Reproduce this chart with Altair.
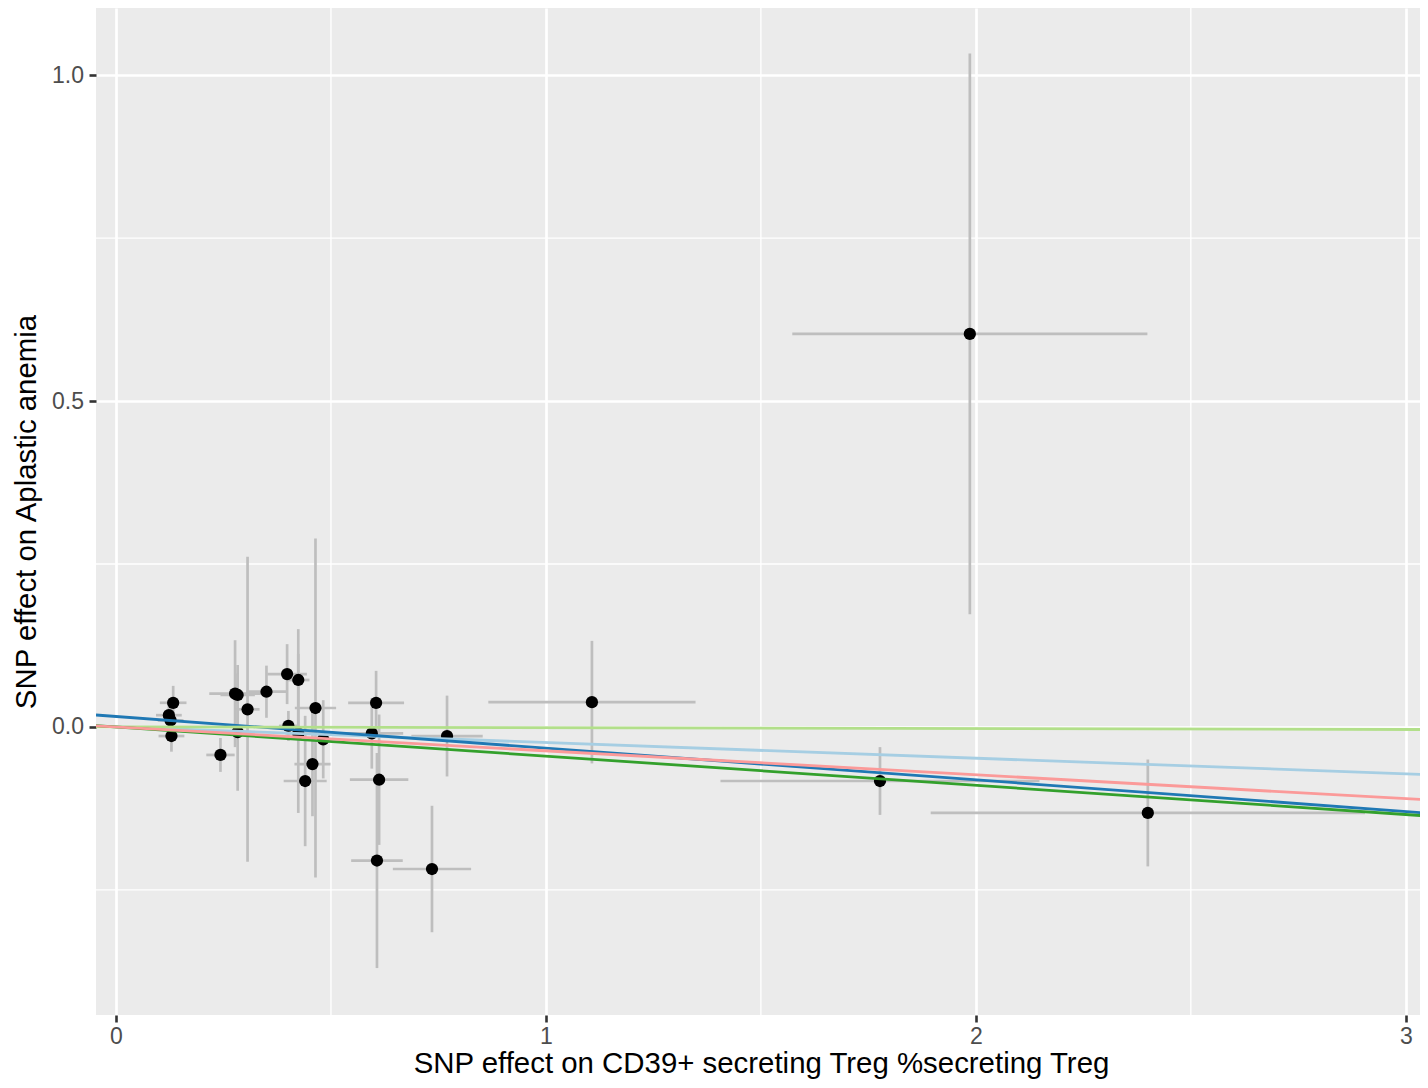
import altair as alt
import pandas as pd

# SNP effects on exposure (x) and outcome (y) with standard errors
bx = [1.986, 1.107, 1.777, 2.400, 0.735, 0.607, 0.612, 0.605, 0.595, 0.770,
      0.464, 0.424, 0.398, 0.350, 0.306, 0.401, 0.482, 0.457, 0.440,
      0.133, 0.123, 0.127, 0.129, 0.243, 0.277, 0.283, 0.283, 0.424]
by = [0.603, 0.038, -0.083, -0.132, -0.218, -0.205, -0.081, 0.037, -0.010, -0.014,
      0.029, 0.072, 0.081, 0.054, 0.027, 0.0015, -0.019, -0.057, -0.083,
      0.037, 0.018, 0.010, -0.014, -0.043, 0.051, 0.049, -0.008, -0.010]
se_x = [0.413, 0.241, 0.371, 0.505, 0.091, 0.060, 0.068, 0.065, 0.073, 0.083,
        0.048, 0.026, 0.046, 0.047, 0.028, 0.022, 0.040, 0.042, 0.050,
        0.031, 0.030, 0.030, 0.030, 0.033, 0.060, 0.040, 0.030, 0.030]
se_y = [0.430, 0.094, 0.052, 0.082, 0.097, 0.165, 0.100, 0.049, 0.054, 0.062,
        0.260, 0.078, 0.046, 0.040, 0.234, 0.023, 0.060, 0.080, 0.100,
        0.026, 0.020, 0.020, 0.024, 0.026, 0.082, 0.046, 0.090, 0.122]

# MR method fits
methods = ["Inverse variance weighted", "MR Egger", "Simple mode",
           "Weighted median", "Weighted mode"]
intercepts = [0.0, 0.016, 0.0, 0.0, 0.0]
slopes = [-0.0240, -0.0486, -0.0013, -0.0448, -0.0367]
colors = ["#a6cee3", "#1f78b4", "#b2df8a", "#33a02c", "#fb9a99"]

# axis breaks
x_major = [0, 1, 2, 3]
x_minor = [0.5, 1.5, 2.5]
y_major = [0.0, 0.5, 1.0]
y_minor = [-0.25, 0.25, 0.75]
X_DOMAIN = [-0.0465, 3.047]
Y_DOMAIN = [-0.442, 1.103]

x_title = "SNP effect on CD39+ secreting Treg %secreting Treg"
y_title = "SNP effect on Aplastic anemia"

FONT = "Liberation Sans"

snp = pd.DataFrame({"bx": bx, "by": by, "se_x": se_x, "se_y": se_y})

rows = []
for m, a, b in zip(methods, intercepts, slopes):
    for xv in X_DOMAIN:
        rows.append({"method": m, "x": xv, "y": a + b * xv})
lines_df = pd.DataFrame(rows)

xscale = alt.Scale(domain=X_DOMAIN, nice=False, zero=False)
yscale = alt.Scale(domain=Y_DOMAIN, nice=False, zero=False)

xaxis = alt.Axis(values=x_major, format="d", title=x_title)
yaxis = alt.Axis(values=y_major, format=".1f", title=y_title)

minor_x = alt.Chart(pd.DataFrame({"v": x_minor})).mark_rule(
    color="white", strokeWidth=1.35
).encode(x=alt.X("v:Q", scale=xscale, axis=xaxis))

minor_y = alt.Chart(pd.DataFrame({"v": y_minor})).mark_rule(
    color="white", strokeWidth=1.35
).encode(y=alt.Y("v:Q", scale=yscale, axis=yaxis))

base = alt.Chart(snp)

vbars = base.transform_calculate(
    ylo="datum.by - datum.se_y", yhi="datum.by + datum.se_y"
).mark_rule(color="#BEBEBE", strokeWidth=2.7, clip=True).encode(
    x=alt.X("bx:Q", scale=xscale, axis=xaxis),
    y=alt.Y("ylo:Q", scale=yscale, axis=yaxis),
    y2="yhi:Q",
)

hbars = base.transform_calculate(
    xlo="datum.bx - datum.se_x", xhi="datum.bx + datum.se_x"
).mark_rule(color="#BEBEBE", strokeWidth=2.7, clip=True).encode(
    x=alt.X("xlo:Q", scale=xscale, axis=xaxis),
    x2="xhi:Q",
    y=alt.Y("by:Q", scale=yscale, axis=yaxis),
)

points = base.mark_circle(color="black", size=150, opacity=1).encode(
    x=alt.X("bx:Q", scale=xscale, axis=xaxis),
    y=alt.Y("by:Q", scale=yscale, axis=yaxis),
)

lines = alt.Chart(lines_df).mark_line(strokeWidth=2.8, clip=True).encode(
    x=alt.X("x:Q", scale=xscale, axis=xaxis),
    y=alt.Y("y:Q", scale=yscale, axis=yaxis),
    color=alt.Color("method:N", scale=alt.Scale(domain=methods, range=colors),
                    legend=None),
    detail="method:N",
)

chart = alt.layer(minor_x, minor_y, vbars, hbars, points, lines).properties(
    width=1330, height=1007,
    autosize=alt.AutoSizeParams(type="none"),
    padding={"left": 88, "top": 0, "right": -6, "bottom": 64},
).configure_view(
    fill="#EBEBEB", strokeWidth=0
).configure_axis(
    grid=True, gridColor="white", gridWidth=2.7,
    domain=False,
    tickColor="#333333", tickWidth=2.6, tickSize=7,
    labelFont=FONT, labelFontSize=23, labelColor="#4D4D4D",
    titleFont=FONT, titleFontSize=29.4, titleColor="black",
    titleFontWeight="normal",
).configure_axisX(
    labelPadding=3.3, titlePadding=1.2,
).configure_axisY(
    labelPadding=5.5, titlePadding=10.5,
)

chart.save("out.html", embed_options={"renderer": "svg", "actions": False})
